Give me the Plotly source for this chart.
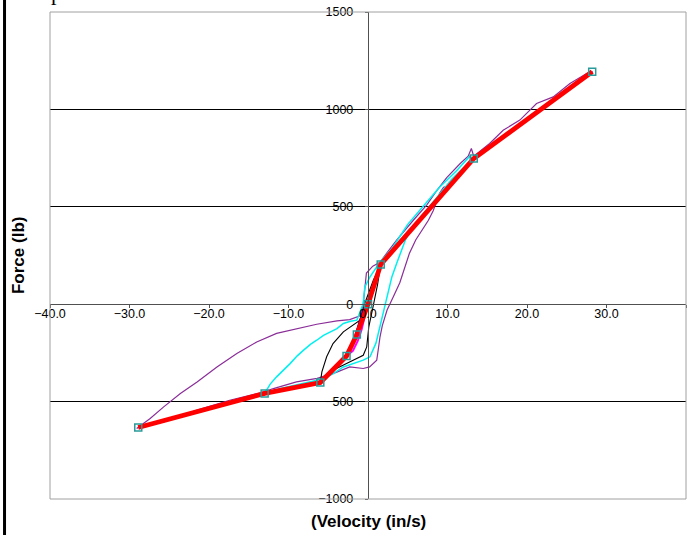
import plotly.graph_objects as go

# ---- data ----
fit_x = [-28.9, -13.0, -6.0, -2.7, -1.4, 0.0, 1.6, 13.3, 28.2]
fit_y = [-633, -458, -402, -266, -156, 0, 204, 748, 1193]

purple_x = [28.3, 20.0, 13.3, 10.0, 9.5, 9.0, 8.6, 8.2, 7.6, 6.8, 6.0, 5.2, 4.6, 4.0, 3.2, 2.4,
            1.8, 1.5, 1.3, 1.1, 0.2, -0.6, -2.3, -4.0, -6.4, -9.0, -11.9, -13.5, -17.4, -21.5,
            -25.7, -28.7, -29.1, -27.4, -25.7, -23.6, -21.5, -19.0, -16.5, -14.0, -11.5, -9.0,
            -6.45, -3.9, -2.3, -1.0, -0.6, -0.4, -0.2, 0.6, 1.5, 2.5, 3.6, 5.7, 7.4, 8.6, 9.9,
            11.6, 12.6, 13.0, 13.3, 15.3, 17.0, 19.1, 21.2, 23.3, 25.4, 27.5, 28.3]
purple_y = [1193, 945, 745, 605, 600, 570, 530, 480, 431, 380, 330, 260, 180, 110, 40, -30,
            -110, -170, -230, -287, -322, -330, -322, -350, -381, -399, -433, -455, -493, -544,
            -604, -630, -638, -587, -527, -458, -399, -322, -253, -194, -150, -125,
            -103, -86, -79, -60, 0, 80, 160, 195, 215, 270, 329, 431, 510, 580, 650,
            722, 760, 799, 760, 825, 893, 945, 1030, 1064, 1133, 1184, 1193]

cyan_x = [13.3, 12.8, 11.2, 9.0, 7.0, 5.0, 3.0, 1.5, 0.25, -0.4, -0.6, -1.4, -2.2, -3.1, -3.9,
          -4.8, -5.6, -6.45, -7.2, -8.1, -8.9, -9.8, -10.6, -11.5, -12.3, -13.0,
          -11.0, -9.0, -6.4, -4.5, -3.1, -0.6, 0.25, 1.0, 1.5, 2.1, 2.55, 3.0, 3.6, 4.2, 4.7,
          5.5, 6.5, 7.8, 9.0, 10.5, 12.0, 13.3]
cyan_y = [748, 760, 688, 600, 505, 410, 285, 215, 140, 89, 4, -82, -88, -99, -125,
          -142, -160, -185, -205, -236, -265, -305, -335, -373, -410, -458,
          -432, -412, -390, -360, -322, -287, -270, -200, -116, -14, 55, 140, 209, 277, 329,
          390, 440, 500, 560, 640, 700, 748]

black_x = [-6.0, -5.8, -5.2, -4.4, -3.1, -1.85, -1.0, -0.4, 0.67, 1.6, 1.2, 0.6, 0.1, -0.16,
           -0.6, -2.7, -4.8, -6.0]
black_y = [-402, -347, -270, -202, -142, -105, -82, 5, 123, 204, 100, -20, -116, -219,
           -262, -305, -347, -402]

magenta_x = [-2.8, -2.3, -1.7, -1.1, -0.5, -0.2, -0.4, -0.8, -1.3, -1.9, -2.8]
magenta_y = [-268, -225, -170, -100, -30, 0, -60, -130, -190, -240, -268]

navy_x = [-1.5, -1.1, -0.5, -0.7, -1.1, -1.5]
navy_y = [-150, -90, -20, -70, -120, -150]

x_ticks = [-40, -30, -20, -10, 0, 10, 20, 30, 40]
y_ticks = [-1000, -500, 0, 500, 1000, 1500]

fig = go.Figure()
fig.add_trace(go.Scatter(x=purple_x, y=purple_y, mode="lines",
                         line=dict(color="#8a2d98", width=1.2)))
fig.add_trace(go.Scatter(x=cyan_x, y=cyan_y, mode="lines",
                         line=dict(color="#00f0f0", width=1.5)))
fig.add_trace(go.Scatter(x=black_x, y=black_y, mode="lines",
                         line=dict(color="#000000", width=1.1)))
fig.add_trace(go.Scatter(x=magenta_x, y=magenta_y, mode="lines",
                         line=dict(color="#ff00ff", width=2)))
fig.add_trace(go.Scatter(x=navy_x, y=navy_y, mode="lines",
                         line=dict(color="#000080", width=1.5)))
fig.add_trace(go.Scatter(x=fit_x, y=fit_y, mode="lines+markers",
                         line=dict(color="#ff0000", width=4.8),
                         marker=dict(symbol="square-open", size=7,
                                     color="#2a9a9a", line=dict(width=1.5, color="#2a9a9a"))))

tickfont = dict(family="Liberation Sans, Arial, sans-serif", size=12.5, color="#000000")

fig.update_layout(
    width=697, height=535,
    margin=dict(l=50, r=11, t=12, b=36, autoexpand=False),
    paper_bgcolor="white", plot_bgcolor="white",
    showlegend=False,
    xaxis=dict(range=[-40, 40], tickvals=x_ticks, tickformat=".1f",
               anchor="free", position=0.4, automargin=False,
               showline=True, linecolor="#505050", linewidth=1.4,
               ticks="outside", ticklen=3, tickcolor="#505050",
               showgrid=False, zeroline=False, tickfont=tickfont,
               ticklabelstandoff=-5),
    yaxis=dict(range=[-1000, 1500], tickvals=y_ticks, tickformat="d",
               anchor="free", position=0.5, automargin=False,
               showline=True, linecolor="#505050", linewidth=1.4,
               ticks="outside", ticklen=3, tickcolor="#505050",
               showgrid=True, gridcolor="#000000", gridwidth=1,
               zeroline=False, tickfont=tickfont, ticklabelstandoff=9),
    shapes=[
        dict(type="rect", xref="paper", yref="paper", x0=0, x1=1, y0=0, y1=1,
             line=dict(color="#a0a0a0", width=1), layer="above"),
        dict(type="line", xref="paper", yref="paper", x0=-0.0715, x1=-0.0715,
             y0=-0.08, y1=1.04, line=dict(color="#000000", width=3)),
    ],
    annotations=[
        dict(text="<b>(Velocity (in/s)</b>", xref="paper", yref="paper", x=0.5, y=-0.047,
             xanchor="center", yanchor="middle", showarrow=False,
             font=dict(family="Liberation Sans, Arial, sans-serif", size=17,
                       color="#000000")),
        dict(text="<b>Force (lb)</b>", xref="paper", yref="paper", x=-0.0495, y=0.5,
             xanchor="center", yanchor="middle", textangle=-90, showarrow=False,
             font=dict(family="Liberation Sans, Arial, sans-serif", size=17, color="#000000")),
        dict(text="p", xref="paper", yref="paper", x=0.011, y=1.0103, xanchor="center",
             yanchor="bottom", showarrow=False,
             font=dict(family="Liberation Serif, Times New Roman, serif", size=22,
                       color="#000000")),
    ],
)

fig.write_html("out.html", config={"displayModeBar": False},
               post_script="document.body.style.margin='0';")
